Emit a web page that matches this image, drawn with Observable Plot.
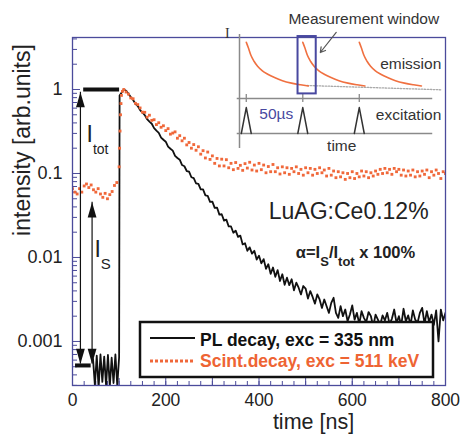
<!DOCTYPE html>
<html><head><meta charset="utf-8">
<script src="https://cdn.jsdelivr.net/npm/d3@7"></script>
<script src="https://cdn.jsdelivr.net/npm/@observablehq/plot@0.6"></script>
<style>
body{margin:0;background:#fff;}
#wrap{position:relative;width:462px;height:434px;overflow:hidden;font-family:"Liberation Sans",Arial,sans-serif;}
#wrap svg{position:absolute;left:0;top:0;}
</style></head><body><div id="wrap"></div>
<script>
// ---------- data ----------
// PL decay (exc = 335 nm), time in ns, intensity in arb. units
const blackPreT = d3.range(44, 100, 4);
const blackPre = [0.00062,0.0003,0.00068,0.00028,0.0007,0.00033,0.00066,0.0003,0.00069,0.00029,0.00064,0.00032,0.0007,0.0003];
const blackRiseT = [100, 101];
const blackRise = [0.00065, 0.85];
const blackDecayT = d3.range(110, 805, 5);
const blackDecay = [
 1.00,0.966,0.891,0.813,0.750,0.676,0.635,0.569,0.532,0.495,
 0.443,0.415,0.391,0.347,0.324,0.305,0.268,0.252,0.239,0.209,
 0.197,0.187,0.162,0.153,0.146,0.126,0.122,0.107,0.105,0.0902,
 0.0879,0.0764,0.0753,0.0647,0.0646,0.0548,0.0541,0.0459,0.0463,0.0389,
 0.0393,0.0324,0.0327,0.0275,0.0282,0.0234,0.0234,0.0197,0.0209,0.0176,
 0.0182,0.0143,0.0148,0.0120,0.0132,0.0111,0.0120,0.00944,0.0105,0.00851,
 0.00955,0.00733,0.00832,0.00638,0.00759,0.00589,0.00708,0.00525,0.00631,0.00473,
 0.00575,0.00468,0.00550,0.00407,0.00501,0.00437,0.00363,0.00457,0.00427,0.00324,
 0.00398,0.00339,0.00282,0.00363,0.00316,0.00251,0.00316,0.00263,0.00219,0.00288,
 0.00331,0.00219,0.00191,0.00263,0.00200,0.00240,0.00174,0.00209,0.00269,0.00182,
 0.00219,0.00162,0.00229,0.00191,0.00170,0.00224,0.00200,0.00151,0.00209,0.00182,
 0.00158,0.00204,0.00178,0.00219,0.00162,0.00186,0.00240,0.00166,0.00200,0.00155,
 0.00245,0.00174,0.00204,0.00158,0.00234,0.00182,0.00166,0.00219,0.00251,0.00162,
 0.00229,0.00170,0.00209,0.00158,0.00234,0.0010,0.00240,0.00178,0.00219];
// Scintillation decay (exc = 511 keV)
const orangePreT = d3.range(0, 100, 5);
const orangePre = [0.066,0.060,0.057,0.066,0.060,0.071,0.075,0.068,0.073,0.064,0.060,0.066,0.057,0.052,0.058,0.050,0.056,0.061,0.072,0.078];
const orangeRiseT = [100,101,102,103,104,105,107];
const orangeRise = [0.12,0.2,0.32,0.5,0.68,0.85,0.95];
const orangeDecayT = d3.range(110, 805, 5);
const orangeDecay = [
 1.00,0.933,0.881,0.794,0.776,0.684,0.661,0.603,0.537,0.535,
 0.468,0.494,0.429,0.437,0.382,0.402,0.355,0.370,0.324,0.342,
 0.294,0.303,0.313,0.263,0.282,0.245,0.263,0.219,0.234,0.200,
 0.221,0.189,0.208,0.170,0.187,0.153,0.180,0.147,0.162,0.132,
 0.151,0.123,0.148,0.123,0.146,0.117,0.132,0.111,0.135,0.115,
 0.125,0.109,0.131,0.116,0.136,0.110,0.126,0.107,0.132,0.111,
 0.126,0.102,0.121,0.105,0.128,0.105,0.117,0.0986,0.120,0.102,
 0.117,0.0977,0.115,0.105,0.120,0.100,0.112,0.0955,0.117,0.102,
 0.115,0.0955,0.112,0.100,0.117,0.102,0.110,0.0933,0.115,0.0955,
 0.107,0.0891,0.105,0.0912,0.102,0.0851,0.100,0.0891,0.105,0.0871,
 0.100,0.0912,0.107,0.0933,0.105,0.0891,0.102,0.0933,0.107,0.0977,
 0.112,0.100,0.115,0.102,0.112,0.0977,0.115,0.105,0.112,0.0955,
 0.110,0.0933,0.107,0.0955,0.110,0.0912,0.105,0.0933,0.107,0.0977,
 0.110,0.0891,0.105,0.0955,0.110,0.100,0.0871,0.105,0.100];

// axis ticks and labels
const yMajor = [1, 0.1, 0.01, 0.001];
const yTickLabels = ["1", "0.1", "0.01", "0.001"];
const yMinor = [4,3,2,0.9,0.8,0.7,0.6,0.5,0.4,0.3,0.2,0.09,0.08,0.07,0.06,0.05,0.04,0.03,0.02,0.009,0.008,0.007,0.006,0.005,0.004,0.003,0.002,0.0009,0.0008,0.0007,0.0006,0.0005,0.0004,0.0003];
const xLabels = [0, 200, 400, 600, 800];
const xMajor = [0,100,200,300,400,500,600,700,800];
const xMinor = d3.range(25, 800, 25);

// annotations: I_tot / I_S arrows (ns, intensity)
const arrows = [{x: 17, top: 0.93, bottom: 0.00054}, {x: 42, top: 0.0455, bottom: 0.00054}];
const levelBars = [{y: 1, x1: 24, x2: 101}, {y: 0.000518, x1: 6.5, x2: 40}];
const labelsNormal = [
  {t: "I_tot", x: 30, y: 0.24, size: 23},
  {t: "I_S", x: 47, y: 0.0101, size: 23},
  {t: "LuAG:Ce0.12%", x: 421, y: 0.0285, size: 23}];
const labelsBold = [{t: "α=I_S/I_tot x 100%", x: 479, y: 0.00985, size: 16.5}];
const subSpecs = {"I_tot": {size: 14, dy: 12}, "I_S": {size: 15, dy: 12}, "α=I_S/I_tot x 100%": {size: 13, dy: 8}};

// inset schematic (time in µs, level in schematic units)
const insetPulses = [0, 50, 100];
const emissionOffsets = [0,2,4,7,10,14,19,25,32,40,48,55];
const emissionLevels = [3.80,3.55,3.27,3.0,2.80,2.62,2.47,2.33,2.2,2.1,2.03,1.98];
const excitationOffsets = [-4.4, 0, 4.4];
const excitationLevels = [0, 1.08, 0];
const tailT = [54, 173];
const tailV = [2.0, 1.82];
const windowBox = [{x1: 45.8, x2: 61.9, y1: 1.65, y2: 4.04}];
const windowArrow = [{x1: 79.6, y1: 4.21, x2: 65.5, y2: 3.375}];

// ---------- build tables ----------
const zip = (T, V) => T.map((t, i) => ({t, v: V[i]}));
const pl = [...zip(blackPreT, blackPre), ...zip(blackRiseT, blackRise), ...zip(blackDecayT, blackDecay)];
const sc = [...zip(orangePreT, orangePre), ...zip(orangeRiseT, orangeRise), ...zip(orangeDecayT, orangeDecay)];

const W = 462, H = 434, mL = 72, mR = 17, mT = 37, mB = 49;
const plotW = W - mL - mR, plotH = H - mT - mB;
const axisColor = "#4b4b9b", ink = "#222", orange = "#f0683a", blue = "#4848a0";
const font = "Liberation Sans, Arial, sans-serif";

const arrowUp = {draw(ctx, size) {const r = Math.sqrt(size / Math.PI); ctx.moveTo(0, 0); ctx.lineTo(-r * 0.55, r * 1.9); ctx.lineTo(r * 0.55, r * 1.9); ctx.closePath();}};
const arrowDown = {draw(ctx, size) {const r = Math.sqrt(size / Math.PI); ctx.moveTo(0, 0); ctx.lineTo(-r * 0.55, -r * 1.9); ctx.lineTo(r * 0.55, -r * 1.9); ctx.closePath();}};

const main = Plot.plot({
  width: W, height: H, marginLeft: mL, marginRight: mR, marginTop: mT, marginBottom: mB,
  style: {fontFamily: font, background: "transparent", color: ink, overflow: "visible"},
  x: {domain: [0, 800]},
  y: {type: "log", domain: [0.000299, 4.16]},
  marks: [
    Plot.tickY(yMinor, {y: d => d, stroke: axisColor, strokeWidth: 1, insetRight: plotW - 5}),
    Plot.tickY(yMajor, {y: d => d, stroke: axisColor, strokeWidth: 1, insetRight: plotW - 8}),
    Plot.tickX(xMinor, {x: d => d, stroke: axisColor, strokeWidth: 1, insetTop: plotH - 4}),
    Plot.tickX(xMajor, {x: d => d, stroke: axisColor, strokeWidth: 1, insetTop: plotH - 7}),
    Plot.axisY(yMajor, {tickSize: 0, tickPadding: 10, label: null, fontSize: 18, fill: ink, tickFormat: d => yTickLabels[yMajor.indexOf(d)]}),
    Plot.axisX(xLabels, {tickSize: 0, tickPadding: 8, label: null, fontSize: 17.5, fill: ink, tickFormat: d => String(d)}),
    Plot.line(pl, {x: "t", y: "v", stroke: "#111", strokeWidth: 1.8, clip: true}),
    Plot.dot(sc, {x: "t", y: "v", symbol: "square", r: 1.6, fill: orange, stroke: null, clip: true}),
    Plot.ruleX(arrows, {x: "x", y1: "bottom", y2: "top", stroke: "#111", strokeWidth: 1.2}),
    Plot.dot(arrows, {x: "x", y: "top", symbol: arrowUp, r: 8, fill: "#111", stroke: null}),
    Plot.dot(arrows, {x: "x", y: "bottom", symbol: arrowDown, r: 8, fill: "#111", stroke: null}),
    Plot.ruleY(levelBars, {y: "y", x1: "x1", x2: "x2", stroke: "#111", strokeWidth: 4}),
    Plot.text(labelsNormal, {x: "x", y: "y", text: "t", fontSize: "size", textAnchor: "start", lineAnchor: "bottom", fill: ink}),
    Plot.text(labelsBold, {x: "x", y: "y", text: "t", fontSize: "size", fontWeight: "bold", textAnchor: "start", lineAnchor: "bottom", fill: ink}),
    Plot.frame({stroke: axisColor, strokeWidth: 1.3})
  ]
});

// subscripts
main.querySelectorAll("text").forEach(t => {
  const s = t.textContent, spec = subSpecs[s];
  if (!spec) return;
  const parts = s.split(/(_[^\/\s]+)/).filter(Boolean);
  t.textContent = "";
  let down = false;
  parts.forEach(p => {
    const ts = document.createElementNS("http://www.w3.org/2000/svg", "tspan");
    if (p[0] === "_") {ts.textContent = p.slice(1); ts.setAttribute("font-size", spec.size); ts.setAttribute("dy", spec.dy); down = true;}
    else {ts.textContent = p; if (down) {ts.setAttribute("dy", -spec.dy); down = false;}}
    t.appendChild(ts);
  });
});

// inset
const emission = insetPulses.flatMap((p, k) => emissionOffsets.map((o, i) => ({t: p + o, v: emissionLevels[i], k})));
const excitation = insetPulses.flatMap((p, k) => excitationOffsets.map((o, i) => ({t: p + o, v: excitationLevels[i], k})));
const grey = "#8a8a8a";
const inset = Plot.plot({
  width: W, height: H, marginLeft: 0, marginRight: 0, marginTop: 0, marginBottom: 0,
  style: {fontFamily: font, background: "transparent", overflow: "visible"},
  x: {domain: [-6, 173], range: [239, 239 + 179 * 1.13], axis: null},
  y: {domain: [0, 4], range: [133, 37], axis: null},
  marks: [
    Plot.ruleX([-6], {x: d => d, y1: -0.625, y2: 4.125, stroke: grey, strokeWidth: 1.5}),
    Plot.ruleY([1.46, 0], {y: d => d, x1: -8, x2: 165, stroke: grey, strokeWidth: 1.5}),
    Plot.ruleX(insetPulses, {x: d => d, y1: 1.29, y2: 1.63, stroke: grey, strokeWidth: 1.3}),
    Plot.line(excitation, {x: "t", y: "v", z: "k", stroke: "#333", strokeWidth: 1.5}),
    Plot.line(zip(tailT, tailV), {x: "t", y: "v", stroke: "#aaa", strokeWidth: 1.3, strokeDasharray: "1.5,1.5"}),
    Plot.line(emission, {x: "t", y: "v", z: "k", stroke: "#f07040", strokeWidth: 1.6, curve: "monotone-x"}),
    Plot.rect(windowBox, {x1: "x1", x2: "x2", y1: "y1", y2: "y2", fill: "none", stroke: blue, strokeWidth: 2}),
    Plot.arrow(windowArrow, {x1: "x1", y1: "y1", x2: "x2", y2: "y2", stroke: "#555", strokeWidth: 1.2, headLength: 7}),
    Plot.text(["I"], {x: -16.8, y: 4.17, text: d => d, fontFamily: "Liberation Serif, serif", fontSize: 14, fill: "#333"}),
    Plot.text(["Measurement window"], {x: 104, y: 4.77, text: d => d, fontSize: 15.5, fill: "#333"}),
    Plot.text(["emission"], {x: 172.6, y: 2.875, text: d => d, textAnchor: "end", fontSize: 15.5, fill: "#333"}),
    Plot.text(["excitation"], {x: 172.6, y: 0.77, text: d => d, textAnchor: "end", fontSize: 15.5, fill: "#333"}),
    Plot.text(["50µs"], {x: 11.5, y: 0.81, text: d => d, textAnchor: "start", fontSize: 15.5, fill: blue}),
    Plot.text(["time"], {x: 84.5, y: -0.54, text: d => d, fontSize: 15.5, fill: "#333"})
  ]
});

// legend and axis titles
const NS = "http://www.w3.org/2000/svg";
const over = document.createElementNS(NS, "svg");
over.setAttribute("width", W); over.setAttribute("height", H);
over.innerHTML = `
<g font-family="${font}">
<rect x="140" y="322" width="293" height="55" fill="#fff" stroke="#111" stroke-width="2.5"/>
<line x1="150" x2="195" y1="338" y2="338" stroke="#111" stroke-width="2"/>
<text x="200" y="346" font-size="17.5" font-weight="bold" fill="#111">PL decay, exc = 335 nm</text>
<line x1="150" x2="195" y1="361" y2="361" stroke="${orange}" stroke-width="3" stroke-dasharray="3,2"/>
<text x="200" y="367" font-size="17.5" font-weight="bold" fill="#ee6433">Scint.decay, exc = 511 keV</text>
<text transform="translate(30,140) rotate(-90)" text-anchor="middle" font-size="23" fill="${ink}">intensity [arb.units]</text>
<text x="313.5" y="428.5" text-anchor="middle" font-size="21.5" fill="${ink}">time [ns]</text>
</g>`;

const wrap = document.getElementById("wrap");
wrap.appendChild(main);
wrap.appendChild(inset);
wrap.appendChild(over);
</script></body></html>
